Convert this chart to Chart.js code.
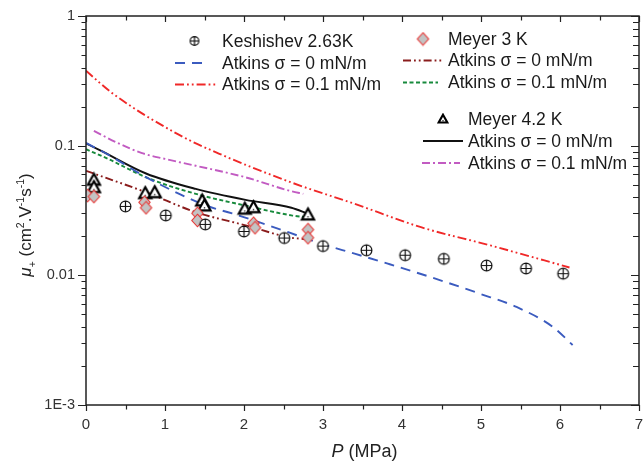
<!DOCTYPE html>
<html>
<head>
<meta charset="utf-8">
<script src="https://cdn.jsdelivr.net/npm/chart.js@4.4.1/dist/chart.umd.min.js"></script>
<style>
    html, body { margin: 0; padding: 0; background: #fff; overflow: hidden; width: 643px; height: 461px; }
    #wrap { position: absolute; left: 0; top: 0; width: 646px; height: 461px; }
</style>
</head>
<body>
<div id="wrap"><canvas id="chart" width="646" height="461"></canvas></div>
<script>
// measured points
const P_KESH = [0.50, 1.01, 1.51, 2.00, 2.51, 3.00, 3.55, 4.04, 4.53, 5.07, 5.57, 6.04];
const MU_KESH = [0.0340, 0.0290, 0.0247, 0.0218, 0.0194, 0.0168, 0.0156, 0.0143, 0.0134, 0.0119, 0.0113, 0.0103];

const P_MEYER3 = [0.02, 0.10, 0.74, 0.76, 1.41, 1.41, 2.12, 2.14, 2.81, 2.81];
const MU_MEYER3 = [0.0412, 0.0405, 0.0366, 0.0332, 0.0301, 0.0265, 0.0252, 0.0233, 0.0225, 0.0195];

const P_MEYER42 = [0.10, 0.10, 0.75, 0.87, 1.47, 1.50, 2.01, 2.12, 2.81];
const MU_MEYER42 = [0.0545, 0.0478, 0.0430, 0.0437, 0.0377, 0.0345, 0.0326, 0.0335, 0.0294];

// Atkins model curves
const P_KESH_S0 = [0, 0.30, 0.72, 1.18, 1.52, 1.85, 2.19, 2.56, 2.98, 3.40, 3.82, 4.36, 4.99, 5.45, 5.91, 6.16];
const MU_KESH_S0 = [0.105, 0.084, 0.059, 0.0425, 0.0345, 0.0300, 0.0257, 0.0215, 0.0175, 0.0147, 0.0123, 0.0097, 0.0072, 0.0057, 0.0040, 0.0029];

const P_KESH_S01 = [0, 0.34, 1.18, 1.68, 2.60, 3.40, 4.24, 5.12, 6.12];
const MU_KESH_S01 = [0.378, 0.252, 0.121, 0.087, 0.052, 0.0356, 0.0235, 0.0170, 0.0115];

const P_M3_S0 = [0, 0.76, 1.39, 2.02, 2.58, 2.78];
const MU_M3_S0 = [0.064, 0.0437, 0.0307, 0.0243, 0.0196, 0.0190];

const P_M3_S01 = [0, 0.30, 0.76, 1.39, 2.02, 2.60, 2.78];
const MU_M3_S01 = [0.094, 0.078, 0.057, 0.0425, 0.0345, 0.0290, 0.0281];

const P_M42_S0 = [0, 0.18, 0.76, 1.39, 2.02, 2.60, 2.81];
const MU_M42_S0 = [0.104, 0.092, 0.061, 0.0464, 0.0382, 0.0332, 0.0298];

const P_M42_S01 = [0.10, 0.40, 0.70, 1.00, 1.39, 2.02, 2.60, 2.75];
const MU_M42_S01 = [0.130, 0.105, 0.088, 0.079, 0.070, 0.057, 0.0445, 0.0425];

const Y_TICKS = [0.001, 0.01, 0.1, 1];
const Y_LABELS = ['1E-3', '0.01', '0.1', '1'];

const FONT = 'Liberation Sans, Arial, sans-serif';

function pts(xs, ys) {
    return xs.map((x, i) => ({ x: x, y: ys[i] }));
}

function makeMarker(kind, s) {
    const c = document.createElement('canvas');
    c.width = s; c.height = s;
    const g = c.getContext('2d');
    const m = s / 2;
    if (kind === 'oplus') {
        const r = s * 0.36;
        g.fillStyle = '#fff';
        g.beginPath();
        g.arc(m, m, r, 0, Math.PI * 2);
        g.fill();
        g.strokeStyle = '#111';
        g.lineWidth = 1.2;
        g.beginPath();
        g.arc(m, m, r, 0, Math.PI * 2);
        g.moveTo(m - r, m); g.lineTo(m + r, m);
        g.moveTo(m, m - r); g.lineTo(m, m + r);
        g.stroke();
    } else if (kind === 'diamond') {
        const r = s * 0.42;
        g.beginPath();
        g.moveTo(m, m - r); g.lineTo(m + r * 0.9, m); g.lineTo(m, m + r); g.lineTo(m - r * 0.9, m);
        g.closePath();
        g.fillStyle = '#c3c3c3';
        g.fill();
        g.strokeStyle = '#e8312f';
        g.lineWidth = 1.1;
        g.stroke();
    } else if (kind === 'triangle') {
        const r = s * 0.36;
        g.beginPath();
        g.moveTo(m, m - r); g.lineTo(m + r, m + r * 0.8); g.lineTo(m - r, m + r * 0.8);
        g.closePath();
        g.fillStyle = '#fff';
        g.fill();
        g.strokeStyle = '#000';
        g.lineWidth = 2.1;
        g.lineJoin = 'miter';
        g.stroke();
        g.fillStyle = '#333';
        g.fillRect(m - 0.7, m + r * 0.25, 1.4, 1.4);
    }
    return c;
}

const markers = {
    oplus: makeMarker('oplus', 15),
    diamond: makeMarker('diamond', 15),
    triangle: makeMarker('triangle', 17)
};

function scatterSet(label, xs, ys, style) {
    return {
        label: label,
        data: pts(xs, ys),
        showLine: false,
        pointStyle: markers[style],
        pointRadius: 6,
        marker: style,
        order: 1
    };
}

function curveSet(label, xs, ys, color, dash) {
    return {
        label: label,
        data: pts(xs, ys),
        borderColor: color,
        borderWidth: 1.9,
        borderDash: dash,
        borderCapStyle: 'butt',
        pointRadius: 0,
        fill: false,
        cubicInterpolationMode: 'monotone',
        order: 2
    };
}

const datasets = [
    scatterSet('Keshishev 2.63K', P_KESH, MU_KESH, 'oplus'),
    curveSet('Atkins σ = 0 mN/m', P_KESH_S0, MU_KESH_S0, '#3b5bbf', [10, 7]),
    curveSet('Atkins σ = 0.1 mN/m', P_KESH_S01, MU_KESH_S01, '#f02828', [9, 3, 1.8, 3, 1.8, 3]),
    scatterSet('Meyer 3 K', P_MEYER3, MU_MEYER3, 'diamond'),
    curveSet('Atkins σ = 0 mN/m', P_M3_S0, MU_M3_S0, '#8a1c1c', [8, 3, 1.8, 3, 1.8, 3]),
    curveSet('Atkins σ = 0.1 mN/m', P_M3_S01, MU_M3_S01, '#178a3c', [4, 2.5]),
    scatterSet('Meyer 4.2 K', P_MEYER42, MU_MEYER42, 'triangle'),
    curveSet('Atkins σ = 0 mN/m', P_M42_S0, MU_M42_S0, '#111111', []),
    curveSet('Atkins σ = 0.1 mN/m', P_M42_S01, MU_M42_S01, '#c25bc2', [8, 3, 2, 3])
];

// legend rows: dataset index, sample start/end, row centre, text x
const LEGEND_ROWS = [
    [0, 175, 216, 41, 222],
    [1, 175, 202, 63, 222],
    [2, 175, 216, 84.5, 222],
    [3, 403, 443, 39, 448],
    [4, 403, 443, 60.5, 448],
    [5, 403, 438, 82.5, 448],
    [6, 423, 463, 119, 468],
    [7, 423, 463, 141, 468],
    [8, 422, 460, 163, 468]
];

function drawRich(ctx, parts, x, y, size) {
    // parts: [text, kind] kind: '', 'i', 'sup', 'sub'
    let cx = x;
    for (const [t, k] of parts) {
        const fs = (k === 'sup' || k === 'sub') ? size * 0.62 : size;
        ctx.font = (k === 'i' ? 'italic ' : '') + fs + 'px ' + FONT;
        const dy = k === 'sup' ? -size * 0.42 : (k === 'sub' ? size * 0.28 : 0);
        ctx.fillText(t, cx, y + dy);
        cx += ctx.measureText(t).width;
    }
    return cx - x;
}

function richWidth(ctx, parts, size) {
    let w = 0;
    for (const [t, k] of parts) {
        const fs = (k === 'sup' || k === 'sub') ? size * 0.62 : size;
        ctx.font = (k === 'i' ? 'italic ' : '') + fs + 'px ' + FONT;
        w += ctx.measureText(t).width;
    }
    return w;
}

const framePlugin = {
    id: 'frame',
    afterDraw(chart) {
        const { ctx, chartArea: a, scales } = chart;
        const x = scales.x, y = scales.y;
        ctx.save();
        ctx.strokeStyle = '#222';

        // box
        ctx.lineWidth = 1.5;
        ctx.strokeRect(a.left, a.top, a.right - a.left, a.bottom - a.top);

        // x ticks, bottom outward and top inward
        ctx.lineWidth = 1.2;
        ctx.beginPath();
        for (let i = 0; i <= 14; i++) {
            const px = Math.round(x.getPixelForValue(i * 0.5)) + 0.5;
            const len = i % 2 === 0 ? 6 : 4.5;
            ctx.moveTo(px, a.bottom); ctx.lineTo(px, a.bottom + len);
            ctx.moveTo(px, a.top); ctx.lineTo(px, a.top + len);
        }
        // y ticks, left outward and right inward
        for (let d = 0; d < Y_TICKS.length; d++) {
            const base = Y_TICKS[d];
            const py = Math.round(y.getPixelForValue(base)) + 0.5;
            ctx.moveTo(a.left - 8, py); ctx.lineTo(a.left, py);
            ctx.moveTo(a.right - 8, py); ctx.lineTo(a.right, py);
            if (d === Y_TICKS.length - 1) break;
            for (let k = 2; k <= 9; k++) {
                const my = Math.round(y.getPixelForValue(base * k)) + 0.5;
                ctx.moveTo(a.left - 4.5, my); ctx.lineTo(a.left, my);
                ctx.moveTo(a.right - 6, my); ctx.lineTo(a.right, my);
            }
        }
        ctx.stroke();

        // axis titles
        ctx.fillStyle = '#222';
        ctx.textBaseline = 'alphabetic';
        ctx.textAlign = 'left';
        const xt = [['P', 'i'], [' (MPa)', '']];
        const xw = richWidth(ctx, xt, 18);
        drawRich(ctx, xt, (a.left + 643) / 2 - xw / 2, 457, 18);

        const yt = [['μ', 'i'], ['+', 'sub'], [' (cm', ''], ['2', 'sup'], ['.V', ''], ['-1', 'sup'], ['s', ''], ['-1', 'sup'], [')', '']];
        const yw = richWidth(ctx, yt, 17);
        ctx.save();
        ctx.translate(31, 225);
        ctx.rotate(-Math.PI / 2);
        drawRich(ctx, yt, -yw / 2, 0, 17);
        ctx.restore();

        // legend
        ctx.font = '17.5px ' + FONT;
        ctx.textBaseline = 'middle';
        for (const [di, x0, x1, cy, tx] of LEGEND_ROWS) {
            const ds = chart.data.datasets[di];
            if (ds.showLine === false) {
                const img = makeMarker(ds.marker, ds.marker === 'diamond' ? 15 : 12);
                ctx.drawImage(img, (x0 + x1) / 2 - img.width / 2 + (di === 0 ? -1 : 0), cy - img.height / 2);
            } else {
                ctx.save();
                ctx.strokeStyle = ds.borderColor;
                ctx.lineWidth = 1.9;
                ctx.setLineDash(ds.borderDash);
                ctx.beginPath();
                ctx.moveTo(x0, cy); ctx.lineTo(x1, cy);
                ctx.stroke();
                ctx.restore();
            }
            ctx.fillStyle = '#1a1a1a';
            ctx.font = '17.5px ' + FONT;
            ctx.fillText(ds.label, tx, cy + 1);
        }
        ctx.restore();
    }
};

new Chart(document.getElementById('chart').getContext('2d'), {
    type: 'line',
    data: { datasets: datasets },
    options: {
        responsive: false,
        animation: false,
        layout: { padding: { top: 16, right: 2, left: 0, bottom: 0 } },
        plugins: {
            legend: { display: false },
            tooltip: { enabled: false }
        },
        scales: {
            x: {
                type: 'linear',
                min: 0,
                max: 7,
                grid: { display: false, drawTicks: false },
                border: { display: false },
                ticks: {
                    stepSize: 1,
                    autoSkip: false,
                    maxRotation: 0,
                    padding: 11,
                    color: '#333',
                    font: { family: FONT, size: 15 }
                },
                afterFit: s => { s.height = 56; s.paddingLeft = 0; s.paddingRight = 0; }
            },
            y: {
                type: 'logarithmic',
                min: 0.001,
                max: 1,
                grid: { display: false, drawTicks: false },
                border: { display: false },
                afterBuildTicks: s => { s.ticks = Y_TICKS.map(v => ({ value: v })); },
                ticks: {
                    autoSkip: false,
                    padding: 11,
                    color: '#333',
                    font: { family: FONT, size: 14.5 },
                    callback: (v, i) => Y_LABELS[i]
                },
                afterFit: s => { s.width = 86; s.paddingTop = 0; s.paddingBottom = 0; }
            }
        }
    },
    plugins: [framePlugin]
});
</script>
</body>
</html>
